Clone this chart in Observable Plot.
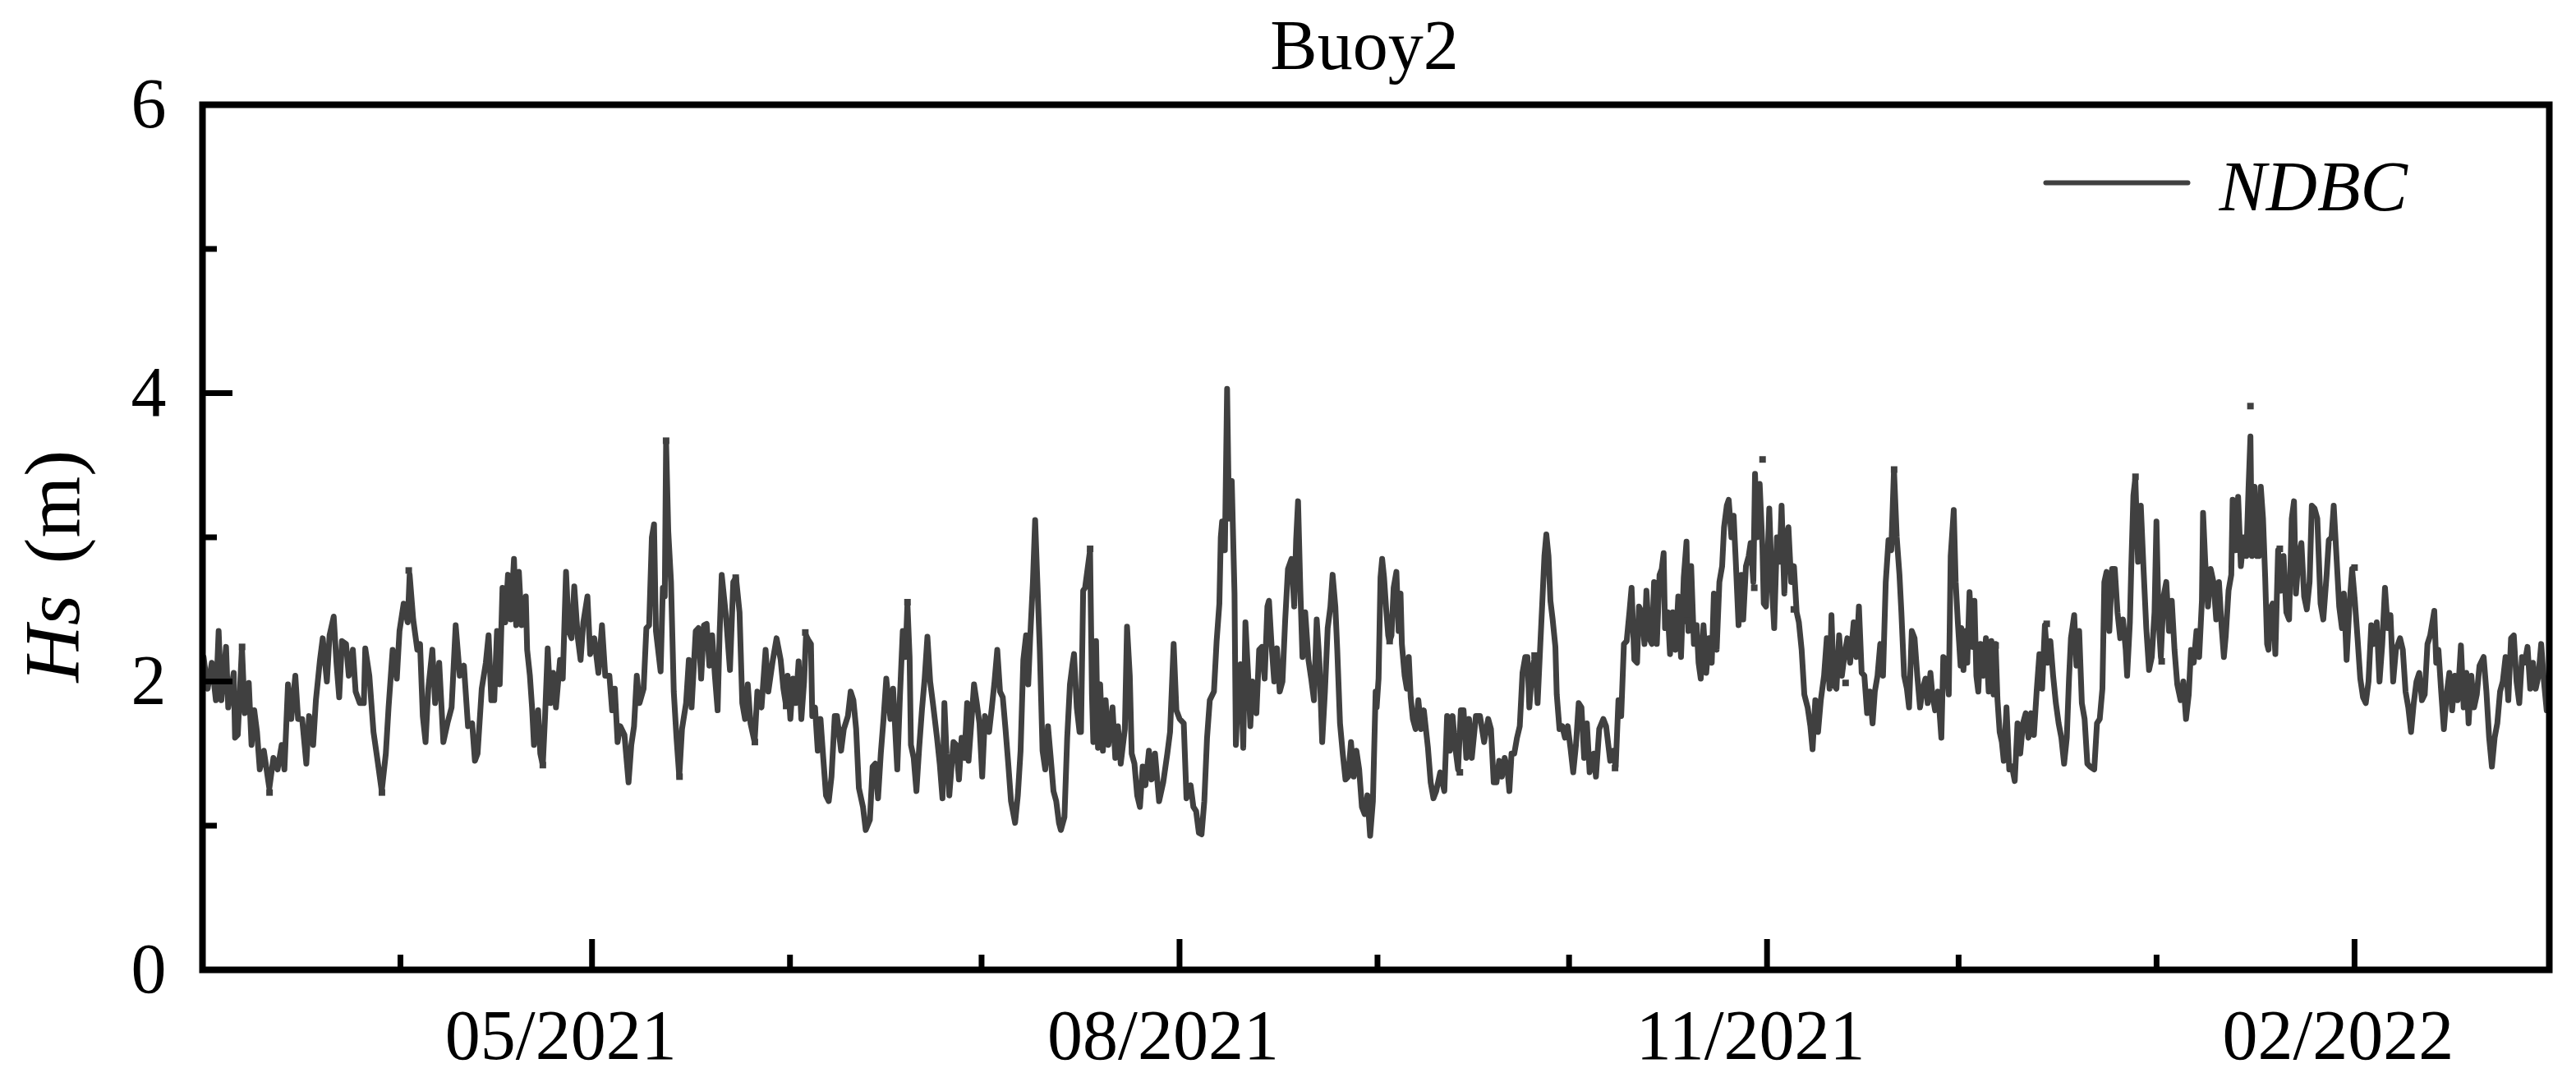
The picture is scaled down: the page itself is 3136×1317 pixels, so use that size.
<!DOCTYPE html>
<html>
<head>
<meta charset="utf-8">
<script src="https://cdn.jsdelivr.net/npm/d3@7"></script>
<script src="https://cdn.jsdelivr.net/npm/@observablehq/plot@0.6"></script>
<style>
  html, body { margin: 0; padding: 0; background: #fff; }
  #chart svg { display: block; }
</style>
</head>
<body>
<div id="chart"></div>
<script>
// ---------- text ----------
const chartTitle = "Buoy2";
const seriesName = "NDBC";
const yLabelVar = "Hs";
const yLabelUnit = "(m)";

// ---------- time axis ----------
const seriesStart = "2021-03-01";           // day offset 0
const xDomainDays = [0, 367.5];             // Mar 1 2021 .. Mar 3 2022
const xMajorTicks = ["2021-05-01", "2021-08-01", "2021-11-01", "2022-02-01"];
const xMinorTicks = ["2021-04-01", "2021-06-01", "2021-07-01", "2021-09-01", "2021-10-01", "2021-12-01", "2022-01-01"];
const yDomain = [0, 6];
const yMajorTicks = [0, 2, 4, 6];
const yMinorTicks = [1, 3, 5];

// ---------- NDBC Hs series: [day offset from 2021-03-01, Hs (m)] ----------
const hsMarApr = [[0,2.04],[0.17,2.17],[0.81,1.95],[1.46,2.13],[2.10,1.87],[2.53,2.35],[2.96,1.87],[3.69,2.24],[4.03,1.82],[4.89,2.06],[5.10,1.61],[5.53,1.63],[6.18,2.24],[6.61,1.78],[7.25,1.99],[7.68,1.56],[8.11,1.80],[8.54,1.65],[8.97,1.39],[9.61,1.52],[10.47,1.26],[11.11,1.47],[11.76,1.39],[12.40,1.56],[12.83,1.39],[13.39,1.98],[13.90,1.74],[14.54,2.04],[14.97,1.74],[15.61,1.74],[16.26,1.43],[16.69,1.76],[17.33,1.56],[17.76,1.87],[18.40,2.15],[18.83,2.30],[19.48,2.00],[19.90,2.32],[20.55,2.45],[20.98,2.13],[21.41,1.89],[21.84,2.28],[22.48,2.26],[22.91,2.04],[23.55,2.22],[23.98,1.93],[24.63,1.85],[25.27,1.85],[25.49,2.23],[26.13,2.04],[26.78,1.65],[27.42,1.45],[28.07,1.24],[28.71,1.50],[29.14,1.82],[29.78,2.22],[30.43,2.02],[30.85,2.35],[31.50,2.54],[32.14,2.41],[32.44,2.74],[33.00,2.43],[33.64,2.22],[34.07,2.26],[34.50,1.76],[34.93,1.58],[35.36,1.95],[36.00,2.22],[36.43,1.85],[37.07,2.13],[37.72,1.58],[38.36,1.71],[39.01,1.82],[39.65,2.39],[40.29,2.04],[40.94,2.11],[41.58,1.69],[42.23,1.71],[42.66,1.45],[43.08,1.50],[43.73,1.95],[44.37,2.13],[44.80,2.32],[45.23,1.87]];
const hsAprMay = [[45.69,1.87],[46.12,2.35],[46.55,1.98],[46.98,2.65],[47.41,2.41],[47.84,2.74],[48.27,2.43],[48.78,2.85],[49.12,2.39],[49.55,2.76],[49.98,2.39],[50.63,2.59],[50.84,2.22],[51.27,2.04],[51.61,1.82],[51.91,1.56],[52.56,1.80],[52.90,1.50],[53.29,1.42],[53.63,1.74],[54.06,2.23],[54.49,1.85],[54.92,2.06],[55.35,1.82],[55.99,2.15],[56.42,2.02],[56.93,2.76],[57.36,2.35],[57.79,2.30],[58.22,2.66],[58.78,2.30],[59.21,2.15],[59.64,2.41],[60.28,2.59],[60.71,2.19],[61.36,2.30],[62.00,2.06],[62.56,2.39],[63.07,2.04],[63.72,2.04],[64.15,1.80],[64.57,1.95],[65.00,1.58],[65.43,1.69],[66.08,1.63],[66.72,1.30],[67.15,1.56],[67.58,1.69],[68.01,2.04],[68.44,1.85],[69.08,1.95],[69.51,2.37],[69.94,2.39],[70.37,3.00],[70.71,3.09],[71.01,2.35],[71.74,2.07],[72.09,2.65],[72.39,2.59],[72.60,3.66],[72.94,3.04],[73.37,2.69],[73.80,1.93],[74.23,1.61],[74.66,1.34],[75.09,1.67],[75.73,1.85],[76.16,2.15],[76.59,1.82],[77.24,2.35],[77.66,2.37],[78.09,2.02],[78.52,2.39],[78.95,2.40],[79.38,2.11],[79.81,2.32],[80.24,2.04],[80.67,1.80],[80.97,2.32],[81.31,2.74],[81.96,2.46],[82.60,2.08],[83.12,2.69],[83.55,2.72],[84.10,2.48],[84.53,1.85],[84.96,1.74],[85.39,1.98],[85.82,1.71],[86.46,1.58],[86.89,1.93],[87.54,1.82],[88.18,2.22],[88.61,1.93],[89.25,2.13],[89.90,2.30],[90.54,2.15],[90.97,1.95],[91.40,1.83]];
const hsJunJul = [[91.63,2.04],[92.06,1.74],[92.49,2.02],[92.92,1.85],[93.35,2.14],[93.78,1.74],[94.21,2.00],[94.51,2.32],[94.85,2.29],[95.28,2.26],[95.49,1.76],[95.92,1.82],[96.35,1.52],[96.78,1.74],[97.21,1.47],[97.64,1.21],[98.07,1.17],[98.50,1.34],[99.01,1.76],[99.36,1.76],[100.00,1.52],[100.43,1.67],[101.07,1.76],[101.50,1.93],[101.93,1.87],[102.36,1.67],[102.79,1.26],[103.43,1.13],[103.86,0.97],[104.51,1.04],[104.94,1.41],[105.37,1.43],[105.79,1.19],[106.22,1.50],[106.65,1.74],[107.08,2.02],[107.73,1.74],[108.15,1.95],[108.80,1.39],[109.23,1.91],[109.66,2.35],[110.09,2.17],[110.39,2.54],[110.73,2.17],[110.94,1.56],[111.37,1.47],[111.80,1.24],[112.23,1.54],[112.66,1.80],[113.09,2.02],[113.52,2.31],[113.95,2.00],[114.38,1.85],[115.02,1.61],[115.45,1.43],[115.88,1.19],[116.18,1.85],[116.52,1.50],[116.95,1.21],[117.60,1.58],[118.03,1.56],[118.46,1.32],[118.88,1.61],[119.31,1.47],[119.74,1.85],[119.96,1.45],[120.39,1.71],[120.82,1.98],[121.25,1.85],[121.67,1.71],[122.10,1.34],[122.53,1.76],[123.18,1.65],[123.61,1.82],[124.03,2.00],[124.46,2.22],[124.89,1.93],[125.32,1.89],[125.75,1.67],[126.18,1.43],[126.61,1.17],[127.25,1.02],[127.68,1.21],[128.11,1.52],[128.54,2.15],[128.97,2.32],[129.31,1.98],[129.61,2.30],[130.04,2.69],[130.39,3.12],[130.77,2.65],[131.12,2.22],[131.55,1.52],[131.97,1.39],[132.40,1.69],[132.83,1.47],[133.26,1.24],[133.69,1.17],[134.12,1.02],[134.42,0.97],[134.98,1.06],[135.41,1.61],[135.84,1.98],[136.27,2.13],[136.48,2.19],[136.91,1.82],[137.34,1.65]];
const hsJulAug = [[137.57,1.65],[137.91,2.63],[138.21,2.65],[138.99,2.91],[139.29,1.91],[139.50,1.58],[139.93,2.28],[140.23,1.54],[140.57,1.98],[141.00,1.52],[141.43,1.87],[141.86,1.56],[142.51,1.82],[142.94,1.47],[143.36,1.69],[143.79,1.43],[144.44,1.67],[144.78,2.38],[145.21,2.04],[145.51,1.50],[145.94,1.43],[146.37,1.21],[146.80,1.13],[147.23,1.41],[147.66,1.28],[148.21,1.52],[148.64,1.32],[149.16,1.50],[149.80,1.17],[150.45,1.30],[151.09,1.50],[151.52,1.65],[152.08,2.26],[152.51,1.80],[153.02,1.74],[153.66,1.71],[154.09,1.19],[154.74,1.28],[155.17,1.13],[155.60,1.10],[156.03,0.95],[156.45,0.94],[156.88,1.17],[157.31,1.61],[157.74,1.87],[158.39,1.93],[158.81,2.28],[159.24,2.54],[159.46,3.00],[159.67,3.11],[160.10,2.91],[160.45,4.03],[160.75,3.13],[161.18,3.39],[161.61,2.61],[161.82,1.56],[162.25,2.04],[162.55,2.12],[162.98,1.54],[163.32,2.41],[163.75,2.04],[164.09,1.69],[164.40,2.00],[164.70,1.91],[165.04,1.78],[165.47,2.22],[165.90,2.24],[166.33,2.02],[166.76,2.52],[167.01,2.56],[167.40,2.26],[167.83,2.00],[168.26,2.23],[168.69,1.93],[169.12,2.00],[169.55,2.43],[169.98,2.78],[170.53,2.85],[170.96,2.52],[171.26,2.98],[171.56,3.25],[171.91,2.65],[172.25,2.17],[172.68,2.48],[173.19,2.15],[173.62,2.02],[174.05,1.87],[174.48,2.43],[174.91,2.13],[175.34,1.58],[175.77,1.93],[176.20,2.37],[176.63,2.52],[176.97,2.74],[177.40,2.52],[177.70,2.22],[178.13,1.71],[178.56,1.50],[178.99,1.32],[179.42,1.34],[179.85,1.58],[180.28,1.34],[180.70,1.52],[181.13,1.39],[181.56,1.13],[181.99,1.08],[182.42,1.21],[182.85,0.93],[183.28,1.17],[183.71,1.93]];
const hsSepOct = [[183.87,1.82],[184.17,2.02],[184.47,2.72],[184.73,2.85],[185.03,2.72],[185.33,2.52],[185.68,2.32],[185.89,2.28],[186.19,2.32],[186.53,2.65],[186.96,2.76],[187.31,2.35],[187.61,2.61],[187.82,2.26],[188.25,2.04],[188.59,1.95],[188.90,2.17],[189.20,1.89],[189.54,1.74],[189.97,1.67],[190.40,1.87],[190.83,1.67],[191.26,1.80],[191.90,1.54],[192.33,1.30],[192.76,1.19],[193.19,1.24],[193.83,1.37],[194.47,1.24],[194.90,1.76],[195.33,1.52],[195.76,1.76],[196.19,1.54],[196.62,1.39],[197.05,1.80],[197.48,1.80],[197.91,1.47],[198.34,1.74],[198.77,1.47],[199.41,1.76],[200.05,1.76],[200.70,1.58],[201.34,1.74],[201.77,1.67],[202.20,1.30],[202.63,1.30],[203.06,1.45],[203.49,1.34],[203.92,1.47],[204.35,1.39],[204.65,1.24],[204.99,1.50],[205.42,1.50],[205.85,1.61],[206.28,1.69],[206.71,2.06],[207.14,2.17],[207.48,2.17],[207.78,1.82],[208.21,2.08],[208.64,2.17],[209.07,1.85],[209.50,2.26],[209.80,2.54],[210.14,2.87],[210.44,3.02],[210.78,2.87],[211.08,2.56],[211.43,2.43],[211.86,2.24],[212.07,1.91],[212.50,1.67],[212.93,1.69],[213.36,1.61],[213.79,1.69],[214.22,1.54],[214.65,1.37],[215.08,1.56],[215.51,1.85],[215.94,1.82],[216.36,1.47],[216.79,1.71],[217.22,1.37],[217.87,1.50],[218.21,1.34],[218.72,1.67],[219.37,1.74],[219.80,1.69],[220.44,1.45],[220.87,1.52],[221.30,1.41],[221.73,1.87],[222.16,1.76],[222.59,2.26],[223.02,2.28],[223.45,2.48],[223.79,2.65],[224.22,2.15],[224.65,2.13],[224.95,2.52],[225.38,2.48],[225.81,2.26],[226.11,2.63],[226.54,2.30],[226.97,2.26],[227.31,2.69],[227.74,2.26],[228.17,2.74],[228.51,2.78],[228.81,2.89],[229.03,2.37],[229.46,2.48]];
const hsOctNov = [[229.81,2.19],[230.24,2.48],[230.67,2.22],[231.10,2.59],[231.53,2.17],[231.96,2.72],[232.39,2.97],[232.69,2.35],[233.12,2.80],[233.55,2.26],[233.98,2.39],[234.28,2.13],[234.62,2.02],[235.05,2.39],[235.48,2.06],[235.91,2.30],[236.34,2.13],[236.68,2.61],[237.11,2.22],[237.54,2.69],[237.97,2.80],[238.27,3.07],[238.70,3.22],[239.00,3.26],[239.43,3.00],[239.77,3.15],[240.11,2.83],[240.54,2.39],[240.97,2.74],[241.27,2.43],[241.70,2.80],[242.13,2.87],[242.43,2.96],[242.86,2.69],[243.12,3.44],[243.42,3.00],[243.85,3.37],[244.28,2.93],[244.49,2.54],[244.84,2.52],[245.35,3.20],[245.78,2.65],[246.12,2.37],[246.55,3.00],[246.98,2.83],[247.28,3.22],[247.71,2.61],[248.01,3.00],[248.35,3.07],[248.78,2.69],[249.21,2.80],[249.64,2.48],[249.99,2.41],[250.42,2.22],[250.84,1.91],[251.36,1.82],[251.79,1.69],[252.13,1.53],[252.56,1.87],[252.99,1.65],[253.42,1.87],[253.93,2.04],[254.36,2.30],[254.79,1.95],[255.09,2.46],[255.44,1.98],[255.87,1.95],[256.29,2.32],[256.72,2.04],[257.15,2.19],[257.58,2.30],[258.01,2.13],[258.57,2.41],[259.00,2.17],[259.39,2.52],[259.82,2.06],[260.24,2.04],[260.67,1.78],[261.10,1.93],[261.53,1.71],[261.88,1.93],[262.30,2.04],[262.73,2.26],[263.16,2.04],[263.59,2.69],[264.02,2.98],[264.45,2.91],[264.88,3.47],[265.31,3.00],[265.74,2.74],[266.04,2.48],[266.47,2.04],[266.90,1.95],[267.24,1.82],[267.67,2.35],[268.10,2.30],[268.53,2.04],[268.96,1.82],[269.39,1.95],[269.81,2.02],[270.16,1.85],[270.59,2.06],[270.89,1.91],[271.32,1.80],[271.75,1.93],[271.96,1.82],[272.30,1.61],[272.60,2.17],[273.03,2.15],[273.46,1.91],[273.76,2.87],[274.24,3.19],[274.54,2.69],[274.88,2.41],[275.31,2.11]];
const hsDecJan = [[275.42,2.37],[275.76,2.08],[276.06,2.35],[276.36,2.13],[276.71,2.62],[277.14,2.24],[277.48,2.56],[277.78,2.04],[278.08,1.93],[278.42,2.26],[278.85,2.04],[279.28,2.30],[279.71,1.93],[280.14,2.28],[280.48,1.91],[280.79,2.26],[281.09,1.87],[281.43,1.65],[281.77,1.58],[282.07,1.45],[282.50,1.82],[282.93,1.39],[283.36,1.41],[283.79,1.31],[284.22,1.71],[284.65,1.50],[285.08,1.71],[285.51,1.78],[285.94,1.61],[286.36,1.78],[286.79,1.63],[287.22,1.93],[287.65,2.19],[288.08,1.95],[288.51,2.39],[288.94,2.13],[289.37,2.28],[289.80,2.04],[290.23,1.85],[290.66,1.71],[291.09,1.61],[291.52,1.43],[291.94,1.61],[292.29,2.02],[292.59,2.30],[293.10,2.46],[293.45,2.11],[293.88,2.35],[294.30,1.85],[294.73,1.74],[295.16,1.43],[295.59,1.41],[296.24,1.39],[296.67,1.71],[297.10,1.74],[297.52,1.95],[297.82,2.69],[298.17,2.76],[298.60,2.35],[299.03,2.78],[299.46,2.78],[299.88,2.48],[300.31,2.30],[300.74,2.43],[301.17,2.22],[301.39,2.04],[301.82,2.41],[302.03,2.78],[302.37,3.29],[302.67,3.41],[303.10,2.83],[303.53,3.22],[303.96,2.78],[304.39,2.37],[304.82,2.08],[305.25,2.17],[305.68,2.48],[305.98,3.11],[306.32,2.43],[306.67,2.17],[307.09,2.59],[307.52,2.69],[307.95,2.35],[308.38,2.56],[308.81,2.22],[309.24,1.98],[309.76,1.87],[310.19,2.00],[310.61,1.74],[311.04,1.91],[311.39,2.22],[311.82,2.13],[312.25,2.35],[312.67,2.17],[313.10,2.56],[313.28,3.17],[313.62,2.83],[314.05,2.52],[314.48,2.78],[314.91,2.69],[315.34,2.43],[315.77,2.69],[316.20,2.37],[316.54,2.17],[316.84,2.32],[317.27,2.63],[317.70,2.74],[317.91,3.26],[318.34,2.91],[318.77,3.28],[319.20,2.80],[319.63,3.00],[320.06,2.87],[320.40,3.34],[320.70,3.70],[320.92,2.87],[321.35,3.35]];
const hsJanMar = [[321.72,2.87],[322.02,2.87],[322.32,3.35],[322.67,3.13],[323.01,2.72],[323.31,2.26],[323.53,2.22],[323.74,2.50],[324.17,2.54],[324.60,2.19],[325.03,2.91],[325.46,2.63],[325.89,2.87],[326.32,2.48],[326.75,2.43],[327.17,3.13],[327.52,3.25],[327.82,2.61],[328.25,2.87],[328.68,2.96],[329.11,2.59],[329.53,2.50],[329.96,2.69],[330.31,3.22],[330.74,3.20],[331.17,3.13],[331.68,2.54],[332.11,2.43],[332.63,2.74],[332.97,2.98],[333.40,3.00],[333.74,3.22],[334.17,2.87],[334.60,2.52],[335.03,2.37],[335.33,2.61],[335.76,2.15],[336.19,2.52],[336.62,2.78],[337.05,2.56],[337.47,2.30],[337.90,2.02],[338.33,1.89],[338.76,1.85],[339.19,2.00],[339.62,2.39],[340.05,2.26],[340.48,2.41],[340.91,2.00],[341.34,2.26],[341.77,2.65],[342.20,2.37],[342.63,2.46],[343.05,2.00],[343.48,2.22],[344.13,2.30],[344.56,2.22],[344.99,1.93],[345.42,1.82],[345.85,1.65],[346.27,1.85],[346.70,2.00],[347.13,2.06],[347.56,1.87],[347.99,1.91],[348.42,2.26],[348.85,2.32],[349.49,2.49],[349.79,2.13],[350.14,2.22],[350.57,1.93],[350.99,1.67],[351.42,1.91],[351.85,2.06],[352.28,1.80],[352.71,2.04],[353.14,1.87],[353.66,2.25],[354.09,1.82],[354.51,2.06],[354.86,1.71],[355.29,2.04],[355.72,1.82],[356.15,1.91],[356.57,2.11],[357.22,2.17],[357.65,1.93],[358.08,1.61],[358.51,1.41],[358.94,1.61],[359.36,1.71],[359.79,1.93],[360.22,2.00],[360.65,2.17],[361.08,1.87],[361.51,2.30],[361.94,2.32],[362.37,2.00],[362.80,1.85],[363.23,2.17],[363.66,2.13],[364.09,2.24],[364.51,1.95],[364.94,2.13],[365.37,1.95],[365.80,2.04],[366.23,2.26],[366.66,2.00],[367.09,1.80]];

// isolated observations (neighbours missing), drawn as small squares
const hsIsolated = [[6.2,2.24],[10.5,1.23],[28.1,1.23],[32.3,2.77],[53.3,1.42],[72.6,3.67],[74.7,1.34],[83.5,2.72],[86.5,1.58],[91.4,1.83],[94.4,2.34],[110.4,2.55],[139.0,2.92],[185.9,2.28],[196.9,1.37],[208.6,2.18],[221.2,1.40],[232.5,2.42],[243.0,2.65],[244.3,3.54],[249.2,2.50],[257.3,1.99],[264.9,3.47],[280.8,2.25],[288.8,2.40],[302.7,3.42],[306.8,2.14],[320.7,3.91],[325.3,2.92],[337.0,2.79]];

// ---------- build ----------
const t0 = new Date(seriesStart).getTime();
const toDate = d => new Date(t0 + d * 86400000);
const toRow = ([d, v]) => ({date: toDate(d), hs: v});
const series = [hsMarApr, hsAprMay, hsJunJul, hsJulAug, hsSepOct, hsOctNov, hsDecJan, hsJanMar].flat().map(toRow);
const isolated = hsIsolated.map(toRow);
const majorDates = xMajorTicks.map(s => new Date(s));
const minorDates = xMinorTicks.map(s => new Date(s));

const W = 3136, H = 1317;
const mL = 246, mR = 33, mT = 127, mB = 137;
const serif = '"Liberation Serif", "Times New Roman", Times, serif';
const ink = "#404040";
const frameMidY = mT + (H - mT - mB) / 2;
const fmtMonth = d3.utcFormat("%m/%Y");

const legendLineShape = {draw(context, l) { context.moveTo(0, 0); context.lineTo(l, 0); }};

const chart = Plot.plot({
  width: W,
  height: H,
  marginLeft: mL,
  marginRight: mR,
  marginTop: mT,
  marginBottom: mB,
  style: {fontFamily: serif, fontSize: "86px", color: "#000", background: "#fff", overflow: "visible"},
  x: {type: "utc", domain: xDomainDays.map(toDate)},
  y: {domain: yDomain},
  marks: [
    // data
    Plot.line(series, {x: "date", y: "hs", stroke: ink, strokeWidth: 7, strokeLinejoin: "round"}),
    Plot.dot(isolated, {x: "date", y: "hs", symbol: "square", r: 4.5, fill: ink, stroke: null}),

    // inward ticks
    Plot.axisX(majorDates, {tickSize: -37, strokeWidth: 7, tickFormat: () => "", label: null}),
    Plot.axisX(minorDates, {tickSize: -18, strokeWidth: 7, tickFormat: () => "", label: null}),
    Plot.axisY(yMajorTicks, {tickSize: -37, strokeWidth: 7, tickFormat: () => "", label: null}),
    Plot.axisY(yMinorTicks, {tickSize: -18, strokeWidth: 7, tickFormat: () => "", label: null}),

    // tick labels
    Plot.axisX(majorDates.slice(0, 1), {tickSize: 0, tickPadding: 47, dx: -38, tickFormat: fmtMonth, fontSize: 86, fill: "#000", label: null}),
    Plot.axisX(majorDates.slice(1), {tickSize: 0, tickPadding: 47, dx: -20, tickFormat: fmtMonth, fontSize: 86, fill: "#000", label: null}),
    Plot.axisY(yMajorTicks, {tickSize: 0, tickPadding: 44, tickFormat: d => String(d), fontSize: 86, fill: "#000", label: null}),

    // frame
    Plot.frame({stroke: "#000", strokeWidth: 8}),

    // title
    Plot.text([chartTitle], {text: d => d, frameAnchor: "top", dx: -14, dy: -44, lineAnchor: "bottom", fontSize: 86, fill: "#000"}),

    // y-axis label (italic variable + unit)
    Plot.text([yLabelVar], {text: d => d, frameAnchor: "left", dx: 95 - mL, dy: 830 - frameMidY, rotate: -90, textAnchor: "start", lineAnchor: "bottom", fontStyle: "italic", fontSize: 96, fill: "#000"}),
    Plot.text([yLabelUnit], {text: d => d, frameAnchor: "left", dx: 95 - mL, dy: 686 - frameMidY, rotate: -90, textAnchor: "start", lineAnchor: "bottom", fontSize: 96, fill: "#000"}),

    // legend
    Plot.vector([seriesName], {frameAnchor: "top-left", dx: 2490 - mL, dy: 222 - mT, length: 173, anchor: "start", shape: legendLineShape, stroke: ink, strokeWidth: 6}),
    Plot.text([seriesName], {text: d => d, frameAnchor: "top-left", dx: 2701 - mL, dy: 255 - mT, textAnchor: "start", lineAnchor: "bottom", fontStyle: "italic", fontSize: 86, fill: "#000"})
  ]
});

document.getElementById("chart").appendChild(chart);
</script>
</body>
</html>
